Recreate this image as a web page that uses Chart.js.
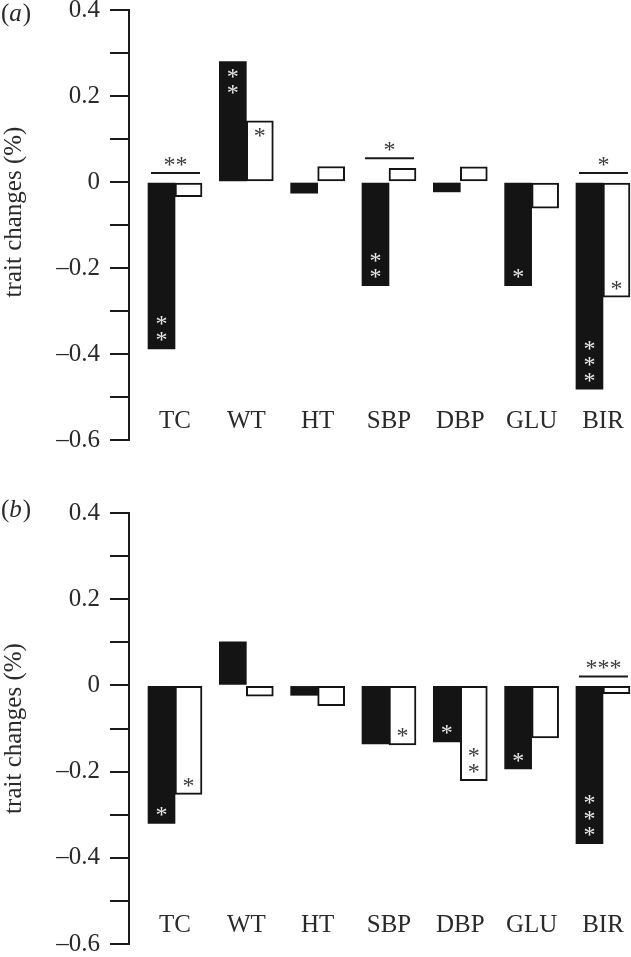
<!DOCTYPE html>
<html>
<head>
<meta charset="utf-8">
<script src="https://cdn.jsdelivr.net/npm/chart.js@4.4.0/dist/chart.umd.min.js"></script>
<style>
  html, body { margin: 0; padding: 0; background: #fff; overflow: hidden; width: 631px; height: 957px; }
  .panel { position: absolute; left: 0; width: 631px; }
  #panelA { top: -20px; height: 490px; }
  #panelB { top: 483px; height: 491px; }
</style>
</head>
<body>
<div class="panel" id="panelA"><canvas id="chartA"></canvas></div>
<div class="panel" id="panelB"><canvas id="chartB"></canvas></div>
<script>
// ===== Datos =====
const categorias = ['TC', 'WT', 'HT', 'SBP', 'DBP', 'GLU', 'BIR'];

// panel (a)
const negrasA  = [-0.388, 0.280, -0.026, -0.241, -0.023, -0.241, -0.482];
const blancasA = [-0.034, 0.142,  0.036,  0.032,  0.035, -0.061, -0.268];
// panel (b)
const negrasB  = [-0.320, 0.101, -0.023, -0.136, -0.131, -0.194, -0.367];
const blancasB = [-0.253, -0.025, -0.047, -0.138, -0.221, -0.122, -0.019];

// asteriscos dentro de cada barra (cuantos)
const estrellasNegrasA  = [2, 2, 0, 2, 0, 1, 3];
const estrellasBlancasA = [0, 1, 0, 0, 0, 0, 1];
const estrellasNegrasB  = [1, 0, 0, 0, 1, 1, 3];
const estrellasBlancasB = [1, 0, 0, 1, 2, 0, 0];
// comparacion entre el par de barras
const paresA = ['**', '', '', '*', '', '', '*'];
const paresB = ['', '', '', '', '', '', '***'];

// eje y
const yTicksValores = [0.4, 0.2, 0, -0.2, -0.4, -0.6];
const yTicksEtiquetas = ['0.4', '0.2', '0', '\u20130.2', '\u20130.4', '\u20130.6'];

const SERIF = '"Liberation Serif", "DejaVu Serif", serif';
const TINTA = '#2a2a2a';

// ===== Plugin de anotaciones =====
function starAt(ctx, txt, x, cy) {
  const m = ctx.measureText('*');
  const off = (m.actualBoundingBoxAscent - m.actualBoundingBoxDescent) / 2;
  ctx.fillText(txt, x, cy + off);
}

const anotaciones = {
  id: 'anotaciones',
  afterDatasetsDraw(chart, args, opts) {
    const ctx = chart.ctx;
    const xs = chart.scales.x, ys = chart.scales.y;
    const area = chart.chartArea;
    const m0 = chart.getDatasetMeta(0), m1 = chart.getDatasetMeta(1);
    ctx.save();

    // etiquetas de categoria
    ctx.font = '25px ' + SERIF;
    ctx.fillStyle = TINTA;
    ctx.textAlign = 'center';
    ctx.textBaseline = 'alphabetic';
    const yLab = ys.getPixelForValue(-0.553) + 8;
    categorias.forEach((c, i) => ctx.fillText(c, xs.getPixelForValue(i), yLab));

    // asteriscos dentro de las barras
    ctx.font = '24px ' + SERIF;
    const dentro = (meta, cuentas, color) => {
      ctx.fillStyle = color;
      meta.data.forEach((bar, i) => {
        const n = cuentas[i];
        const dir = bar.y > bar.base ? -1 : 1;
        for (let k = 0; k < n; k++) {
          starAt(ctx, '*', bar.x, bar.y + dir * (12 + k * 16));
        }
      });
    };
    dentro(m0, opts.negras, '#e8e8e8');
    dentro(m1, opts.blancas, '#3a3a3a');

    // lineas de comparacion
    ctx.fillStyle = '#3a3a3a';
    ctx.strokeStyle = '#1a1a1a';
    ctx.lineWidth = 2;
    opts.pares.forEach((txt, i) => {
      if (!txt) return;
      const b0 = m0.data[i], b1 = m1.data[i];
      const left = b0.x - b0.width / 2 + 3;
      const right = b1.x + b1.width / 2 - 2;
      const top = Math.min(b0.y, b0.base, b1.y, b1.base) - 10;
      ctx.beginPath();
      ctx.moveTo(left, top);
      ctx.lineTo(right, top);
      ctx.stroke();
      starAt(ctx, txt, (left + right) / 2, top - 12);
    });

    // titulo del eje y
    ctx.save();
    ctx.font = '25px ' + SERIF;
    ctx.fillStyle = TINTA;
    ctx.translate(14, (area.top + area.bottom) / 2 + opts.titleShift);
    ctx.rotate(-Math.PI / 2);
    ctx.textAlign = 'center';
    ctx.textBaseline = 'middle';
    ctx.fillText('trait changes (%)', 0, 0);
    ctx.restore();

    // etiqueta del panel: (a) / (b)
    ctx.textAlign = 'left';
    ctx.textBaseline = 'middle';
    ctx.fillStyle = TINTA;
    let px = 1;
    const py = area.top + opts.panelShift;
    ctx.font = '25px ' + SERIF;
    ctx.fillText('(', px, py); px += ctx.measureText('(').width;
    ctx.font = 'italic 25px ' + SERIF;
    ctx.fillText(opts.panel, px, py); px += ctx.measureText(opts.panel).width + 1;
    ctx.font = '25px ' + SERIF;
    ctx.fillText(')', px, py);

    ctx.restore();
  }
};

function makeChart(canvasId, negras, blancas, anot) {
  const ctx = document.getElementById(canvasId).getContext('2d');
  return new Chart(ctx, {
    type: 'bar',
    data: {
      datasets: [
        {
          data: categorias.map((c, i) => ({ x: i, y: negras[i] })),
          backgroundColor: '#141414',
          borderColor: '#141414',
          borderWidth: 0,
          borderSkipped: false,
          barThickness: 27
        },
        {
          data: categorias.map((c, i) => ({ x: i, y: blancas[i] })),
          backgroundColor: '#ffffff',
          borderColor: '#141414',
          borderWidth: 2,
          borderSkipped: false,
          barThickness: 27
        }
      ]
    },
    options: {
      responsive: true,
      maintainAspectRatio: false,
      animation: false,
      devicePixelRatio: 1,
      events: [],
      layout: { padding: { top: 30, bottom: 30, left: 0, right: 0 } },
      plugins: {
        legend: { display: false },
        tooltip: { enabled: false },
        anotaciones: anot
      },
      scales: {
        x: {
          type: 'linear',
          display: false,
          offset: false,
          grid: { offset: false },
          min: -0.645,
          max: 6.393
        },
        y: {
          min: -0.6,
          max: 0.4,
          afterFit: s => { s.width = 129; },
          border: { display: true, color: '#1a1a1a', width: 2 },
          grid: { drawOnChartArea: false, drawTicks: true, tickLength: 19, lineWidth: 2, color: '#1a1a1a' },
          ticks: {
            stepSize: 0.1,
            padding: 10,
            color: TINTA,
            font: { family: SERIF, size: 25 },
            callback: v => {
              const k = yTicksValores.findIndex(t => Math.abs(t - v) < 1e-6);
              return k >= 0 ? yTicksEtiquetas[k] : '';
            }
          }
        }
      }
    },
    plugins: [anotaciones]
  });
}

makeChart('chartA', negrasA, blancasA,
  { negras: estrellasNegrasA, blancas: estrellasBlancasA, pares: paresA, panel: 'a', titleShift: -13, panelShift: 4 });

makeChart('chartB', negrasB, blancasB,
  { negras: estrellasNegrasB, blancas: estrellasBlancasB, pares: paresB, panel: 'b', titleShift: 0, panelShift: -3 });
</script>
</body>
</html>
